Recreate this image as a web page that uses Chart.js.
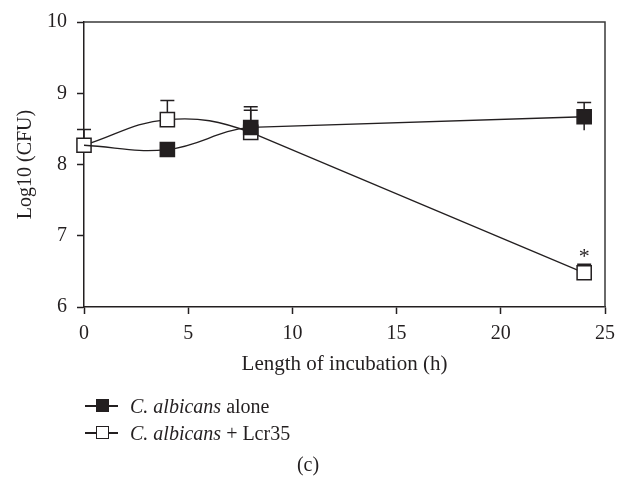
<!DOCTYPE html>
<html>
<head>
<meta charset="utf-8">
<script src="https://cdn.jsdelivr.net/npm/chart.js@4/dist/chart.umd.min.js"></script>
<style>
  html, body { margin: 0; padding: 0; background: #fff; }
  #wrap { position: relative; width: 629px; height: 480px; font-family: "Liberation Serif", "DejaVu Serif", serif; color: #231f20; }
  #myChart { position: absolute; left: 0; top: 0; }
  .row { position: absolute; left: 84px; height: 24px; font-size: 20px; line-height: 24px; white-space: nowrap; }
  .mk { position: absolute; left: 0; top: 0; width: 36px; height: 24px; }
  .mk .ln { position: absolute; left: 1px; top: 11px; width: 33px; height: 1.5px; background: #231f20; }
  .mk .sq { position: absolute; left: 12px; top: 5px; width: 11px; height: 11px; border: 1.5px solid #231f20; }
  .txt { position: absolute; left: 46px; top: 0; }
  #cap { position: absolute; left: 0; width: 616px; top: 453px; text-align: center; font-size: 20px; }
</style>
</head>
<body>
<div id="wrap">
  <canvas id="myChart" width="629" height="480"></canvas>
  <div class="row" style="top:394px">
    <div class="mk"><div class="ln"></div><div class="sq" style="background:#231f20"></div></div>
    <div class="txt"><i>C. albicans</i> alone</div>
  </div>
  <div class="row" style="top:421px">
    <div class="mk"><div class="ln"></div><div class="sq" style="background:#fff"></div></div>
    <div class="txt"><i>C. albicans</i> + Lcr35</div>
  </div>
  <div id="cap">(c)</div>
</div>
<script>
const hours = [0, 4, 8, 24];

const aloneMean = [8.27, 8.21, 8.52, 8.67];
const aloneErrUp = [0, 0.04, 0.29, 0.2];
const aloneErrDown = [0, 0, 0, 0.19];

const lcrMean = [8.27, 8.63, 8.45, 6.48];
const lcrErrUp = [0.22, 0.27, 0.31, 0.12];
const lcrErrDown = [0, 0, 0, 0];

// significance mark on Lcr35 series
const lcrStars = ['', '', '', '*'];

const xTickValues = [0, 5, 10, 15, 20, 25];
const yTickValues = [6, 7, 8, 9, 10];

const ink = '#231f20';
const font = 'Liberation Serif';

const toPoints = (xs, ys) => xs.map((h, i) => ({x: h, y: ys[i]}));

const errorBars = {
    id: 'errorBars',
    beforeDatasetsDraw(chart) {
        const ctx = chart.ctx;
        const x = chart.scales.x, y = chart.scales.y;
        ctx.save();
        ctx.strokeStyle = ink;
        ctx.lineWidth = 1.5;
        chart.data.datasets.forEach(function(ds) {
            if (!ds.errUp) return;
            ds.data.forEach(function(p, i) {
                const px = x.getPixelForValue(p.x);
                const py = y.getPixelForValue(p.y);
                if (ds.errUp[i] > 0) {
                    const top = y.getPixelForValue(p.y + ds.errUp[i]);
                    ctx.beginPath();
                    ctx.moveTo(px, py);
                    ctx.lineTo(px, top);
                    ctx.moveTo(px - 7, top);
                    ctx.lineTo(px + 7, top);
                    ctx.stroke();
                }
                if (ds.errDown[i] > 0) {
                    const bot = y.getPixelForValue(p.y - ds.errDown[i]);
                    ctx.beginPath();
                    ctx.moveTo(px, py);
                    ctx.lineTo(px, bot);
                    ctx.stroke();
                }
            });
        });
        ctx.restore();
    },
    afterDatasetsDraw(chart) {
        const ctx = chart.ctx;
        const a = chart.chartArea;
        const x = chart.scales.x, y = chart.scales.y;
        ctx.save();
        // top and right of the frame
        ctx.strokeStyle = '#3a3a3a';
        ctx.lineWidth = 1.5;
        ctx.beginPath();
        ctx.moveTo(a.left, a.top);
        ctx.lineTo(a.right, a.top);
        ctx.lineTo(a.right, a.bottom);
        ctx.stroke();
        // asterisks above the error caps
        ctx.fillStyle = ink;
        ctx.font = '22px "' + font + '"';
        ctx.textAlign = 'center';
        ctx.textBaseline = 'alphabetic';
        chart.data.datasets.forEach(function(ds) {
            if (!ds.stars) return;
            ds.data.forEach(function(p, i) {
                if (!ds.stars[i]) return;
                const px = x.getPixelForValue(p.x);
                const top = y.getPixelForValue(p.y + ds.errUp[i]);
                ctx.fillText(ds.stars[i], px, top - 1);
            });
        });
        ctx.restore();
    }
};

// the last segment (8 h -> 24 h) is drawn straight by a separate line
const hideLast = { borderColor: (c) => c.p1DataIndex === hours.length - 1 ? 'rgba(0,0,0,0)' : ink };

const markerSeries = (label, ys, up, down, fill, extra) => Object.assign({
    label: label,
    data: toPoints(hours, ys),
    errUp: up,
    errDown: down,
    borderColor: ink,
    borderWidth: 1.3,
    backgroundColor: fill,
    pointStyle: 'rect',
    pointRadius: 10,
    pointBorderWidth: 1.5,
    pointBorderColor: ink,
    pointBackgroundColor: fill,
    tension: 0.4,
    segment: hideLast,
    clip: false
}, extra);

const tailSeries = (ys) => ({
    data: toPoints(hours.slice(2), ys.slice(2)),
    borderColor: ink,
    borderWidth: 1.3,
    pointRadius: 0,
    tension: 0,
    order: 5
});

const data = {
    datasets: [
        markerSeries('C. albicans alone', aloneMean, aloneErrUp, aloneErrDown, ink, {
            // first marker sits under the open square in the original
            pointRadius: (c) => c.dataIndex === 0 ? 0 : 10,
            order: 0
        }),
        markerSeries('C. albicans + Lcr35', lcrMean, lcrErrUp, lcrErrDown, '#fff', {
            stars: lcrStars,
            order: 1
        }),
        tailSeries(aloneMean),
        tailSeries(lcrMean)
    ]
};

const tickFont = { family: font, size: 20 };

const config = {
    type: 'line',
    data: data,
    options: {
        responsive: false,
        animation: false,
        layout: {
            padding: { left: 0, right: 24, top: 21, bottom: 103 }
        },
        plugins: {
            legend: { display: false },
            tooltip: { enabled: false }
        },
        scales: {
            x: {
                type: 'linear',
                min: 0,
                max: 25,
                afterBuildTicks: (s) => { s.ticks = xTickValues.map(v => ({value: v})); },
                afterFit: (s) => { s.height = 70; },
                grid: { drawOnChartArea: false, tickLength: 7, tickWidth: 1.5, tickColor: ink },
                border: { color: ink, width: 1.5 },
                ticks: { color: ink, font: tickFont, padding: 8, maxRotation: 0 },
                title: {
                    display: true,
                    text: 'Length of incubation (h)',
                    color: ink,
                    font: { family: font, size: 21 },
                    padding: { top: 0, bottom: 0 }
                }
            },
            y: {
                min: 6,
                max: 10,
                afterBuildTicks: (s) => { s.ticks = yTickValues.map(v => ({value: v})); },
                afterFit: (s) => { s.width = 84; },
                grid: { drawOnChartArea: false, tickLength: 7, tickWidth: 1.5, tickColor: ink },
                border: { color: ink, width: 1.5 },
                ticks: { color: ink, font: tickFont, padding: 10 },
                title: {
                    display: true,
                    text: 'Log10 (CFU)',
                    color: ink,
                    font: tickFont,
                    padding: { top: 14, bottom: 0 }
                }
            }
        }
    },
    plugins: [errorBars]
};

new Chart(document.getElementById('myChart'), config);
</script>
</body>
</html>
